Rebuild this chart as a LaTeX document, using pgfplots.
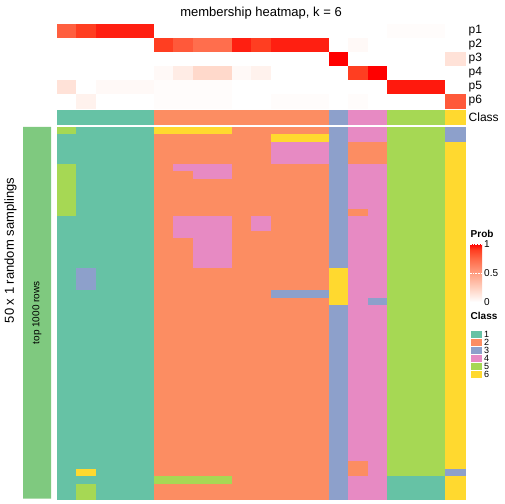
\documentclass[border=0pt]{standalone}
\usepackage{pgfplots}
\pgfplotsset{compat=1.18}
\usepackage{pgfplotstable}
\usepackage{fontspec}
\setmainfont{Liberation Sans}

\definecolor{cA}{RGB}{102,194,165}
\definecolor{cB}{RGB}{252,141,98}
\definecolor{cC}{RGB}{141,160,203}
\definecolor{cD}{RGB}{231,138,195}
\definecolor{cE}{RGB}{166,216,84}
\definecolor{cF}{RGB}{255,217,47}
\definecolor{accgreen}{RGB}{127,201,127}

\pgfplotstableread{
p c0 c1 c2 c3 c4 c5 c6 c7 c8 c9 c10 c11 c12 c13 c14 c15 c16 c17 c18 c19 c20
1 0.78 0.9 0.95 0.95 0.95 0 0 0 0 0 0 0 0 0 0 0 0 0.015 0.015 0.015 0
2 0 0 0 0 0 0.9 0.8 0.72 0.72 0.95 0.9 0.95 0.95 0.95 0 0.03 0 0 0 0 0
3 0 0 0 0 0 0 0 0 0 0 0 0 0 0 1 0 0 0 0 0 0.15
4 0 0 0 0 0 0.03 0.1 0.2 0.2 0.03 0.07 0 0 0 0 0.9 1 0 0 0 0
5 0.15 0 0.03 0.03 0.03 0.015 0.015 0.015 0.015 0 0 0 0 0 0 0 0 0.96 0.96 0.96 0
6 0 0.07 0 0 0 0.015 0.015 0.015 0.015 0 0 0.015 0.015 0.015 0 0.015 0 0 0 0 0.8
}\probtable

\pgfplotstableread{
x y c
0 1 1
1 1 1
2 1 1
3 1 1
4 1 1
5 1 2
6 1 2
7 1 2
8 1 2
9 1 2
10 1 2
11 1 2
12 1 2
13 1 2
14 1 3
15 1 4
16 1 4
17 1 5
18 1 5
19 1 5
20 1 6
}\classtable

\pgfplotstableread{
r c0 c1 c2 c3 c4 c5 c6 c7 c8 c9 c10 c11 c12 c13 c14 c15 c16 c17 c18 c19 c20
0 5 1 1 1 1 6 6 6 6 2 2 2 2 2 3 4 4 5 5 5 3
1 1 1 1 1 1 2 2 2 2 2 2 6 6 6 3 4 4 5 5 5 3
2 1 1 1 1 1 2 2 2 2 2 2 4 4 4 3 2 2 5 5 5 6
3 1 1 1 1 1 2 2 2 2 2 2 4 4 4 3 2 2 5 5 5 6
4 1 1 1 1 1 2 2 2 2 2 2 4 4 4 3 2 2 5 5 5 6
5 5 1 1 1 1 2 4 4 4 2 2 2 2 2 3 4 4 5 5 5 6
6 5 1 1 1 1 2 2 4 4 2 2 2 2 2 3 4 4 5 5 5 6
7 5 1 1 1 1 2 2 2 2 2 2 2 2 2 3 4 4 5 5 5 6
8 5 1 1 1 1 2 2 2 2 2 2 2 2 2 3 4 4 5 5 5 6
9 5 1 1 1 1 2 2 2 2 2 2 2 2 2 3 4 4 5 5 5 6
10 5 1 1 1 1 2 2 2 2 2 2 2 2 2 3 4 4 5 5 5 6
11 5 1 1 1 1 2 2 2 2 2 2 2 2 2 3 2 4 5 5 5 6
12 1 1 1 1 1 2 4 4 4 2 4 2 2 2 3 4 4 5 5 5 6
13 1 1 1 1 1 2 4 4 4 2 4 2 2 2 3 4 4 5 5 5 6
14 1 1 1 1 1 2 4 4 4 2 2 2 2 2 3 4 4 5 5 5 6
15 1 1 1 1 1 2 2 4 4 2 2 2 2 2 3 4 4 5 5 5 6
16 1 1 1 1 1 2 2 4 4 2 2 2 2 2 3 4 4 5 5 5 6
17 1 1 1 1 1 2 2 4 4 2 2 2 2 2 3 4 4 5 5 5 6
18 1 1 1 1 1 2 2 4 4 2 2 2 2 2 3 4 4 5 5 5 6
19 1 3 1 1 1 2 2 2 2 2 2 2 2 2 6 4 4 5 5 5 6
20 1 3 1 1 1 2 2 2 2 2 2 2 2 2 6 4 4 5 5 5 6
21 1 3 1 1 1 2 2 2 2 2 2 2 2 2 6 4 4 5 5 5 6
22 1 1 1 1 1 2 2 2 2 2 2 3 3 3 6 4 4 5 5 5 6
23 1 1 1 1 1 2 2 2 2 2 2 2 2 2 6 4 3 5 5 5 6
24 1 1 1 1 1 2 2 2 2 2 2 2 2 2 3 4 4 5 5 5 6
25 1 1 1 1 1 2 2 2 2 2 2 2 2 2 3 4 4 5 5 5 6
26 1 1 1 1 1 2 2 2 2 2 2 2 2 2 3 4 4 5 5 5 6
27 1 1 1 1 1 2 2 2 2 2 2 2 2 2 3 4 4 5 5 5 6
28 1 1 1 1 1 2 2 2 2 2 2 2 2 2 3 4 4 5 5 5 6
29 1 1 1 1 1 2 2 2 2 2 2 2 2 2 3 4 4 5 5 5 6
30 1 1 1 1 1 2 2 2 2 2 2 2 2 2 3 4 4 5 5 5 6
31 1 1 1 1 1 2 2 2 2 2 2 2 2 2 3 4 4 5 5 5 6
32 1 1 1 1 1 2 2 2 2 2 2 2 2 2 3 4 4 5 5 5 6
33 1 1 1 1 1 2 2 2 2 2 2 2 2 2 3 4 4 5 5 5 6
34 1 1 1 1 1 2 2 2 2 2 2 2 2 2 3 4 4 5 5 5 6
35 1 1 1 1 1 2 2 2 2 2 2 2 2 2 3 4 4 5 5 5 6
36 1 1 1 1 1 2 2 2 2 2 2 2 2 2 3 4 4 5 5 5 6
37 1 1 1 1 1 2 2 2 2 2 2 2 2 2 3 4 4 5 5 5 6
38 1 1 1 1 1 2 2 2 2 2 2 2 2 2 3 4 4 5 5 5 6
39 1 1 1 1 1 2 2 2 2 2 2 2 2 2 3 4 4 5 5 5 6
40 1 1 1 1 1 2 2 2 2 2 2 2 2 2 3 4 4 5 5 5 6
41 1 1 1 1 1 2 2 2 2 2 2 2 2 2 3 4 4 5 5 5 6
42 1 1 1 1 1 2 2 2 2 2 2 2 2 2 3 4 4 5 5 5 6
43 1 1 1 1 1 2 2 2 2 2 2 2 2 2 3 4 4 5 5 5 6
44 1 1 1 1 1 2 2 2 2 2 2 2 2 2 3 4 4 5 5 5 6
45 1 1 1 1 1 2 2 2 2 2 2 2 2 2 3 2 4 5 5 5 6
46 1 6 1 1 1 2 2 2 2 2 2 2 2 2 3 2 4 5 5 5 3
47 1 1 1 1 1 5 5 5 5 2 2 2 2 2 3 4 4 1 1 1 6
48 1 5 1 1 1 2 2 2 2 2 2 2 2 2 3 4 4 1 1 1 6
49 1 5 1 1 1 2 2 2 2 2 2 2 2 2 3 4 4 1 1 1 6
}\maintable

\pgfplotsset{
  heat/.style={
    anchor=south west, scale only axis, width=408bp,
    xmin=-0.5, xmax=20.5, y dir=reverse,
    axis line style={draw=none}, tick style={draw=none},
    xtick=\empty, yticklabel pos=right,
    yticklabel style={anchor=west, inner sep=0pt, xshift=3.5bp,
      font=\fontsize{12bp}{14bp}\selectfont},
  },
  classcells/.style={
    scatter, only marks, mark=square*, point meta=explicit symbolic,
    scatter/classes={
      1={fill=cA, draw=cA},
      2={fill=cB, draw=cB},
      3={fill=cC, draw=cC},
      4={fill=cD, draw=cD},
      5={fill=cE, draw=cE},
      6={fill=cF, draw=cF}},
  },
}

\begin{document}
\begin{tikzpicture}[x=1bp,y=1bp]
\useasboundingbox (0,0) rectangle (504,504);

\node[font=\fontsize{13bp}{15bp}\selectfont] at (261,490.5) {membership heatmap, k = 6};

% probability heatmap
\begin{axis}[heat, at={(57bp,396bp)}, height=84bp, ymin=0.5, ymax=6.5,
  ytick={1,2,3,4,5,6}, yticklabels={p1,p2,p3,p4,p5,p6},
  colormap={prob}{rgb255(0cm)=(255,255,255) rgb255(5cm)=(255,207,190)
    rgb255(10cm)=(255,158,129) rgb255(15cm)=(255,103,70) rgb255(18cm)=(255,62,33)
    rgb255(20cm)=(255,0,0)},
  point meta min=0, point meta max=1,
  colorbar shift/.style={},
  colorbar,
  colorbar style={at={(470bp,260bp)},
    anchor=north west, scale only axis, width=12bp, height=58bp,
    ytick={0,0.5,1}, yticklabels={0,0.5,1}, yticklabel pos=right,
    yticklabel style={anchor=west, inner sep=0pt, xshift=2bp,
      font=\fontsize{10bp}{12bp}\selectfont},
    axis line style={draw=none}, major tick length=6bp,
    tick style={draw=white, line width=0.6bp, dash pattern=on 1.5bp off 1bp}},
  ]
\pgfplotsinvokeforeach{0,...,20}{
  \addplot[scatter, only marks, mark=square*, mark size=7bp,
    scatter/use mapped color={draw=mapped color, fill=mapped color},
    mark options={xscale=1.38776, line width=0.3bp}, point meta=explicit]
    table[x expr=#1, y=p, meta=c#1]{\probtable};
}
\end{axis}

% class annotation
\begin{axis}[heat, at={(57bp,380bp)}, height=14bp, ymin=0.5, ymax=1.5,
  ytick={1}, yticklabels={Class}]
\addplot[classcells, mark size=7bp,
  mark options={xscale=1.38776, line width=0.3bp}]
  table[x=x, y=y, meta=c]{\classtable};
\end{axis}

% main membership heatmap
\begin{axis}[heat, at={(57bp,5.3bp)}, height=371.7bp, ymin=-0.5, ymax=49.5,
  ytick=\empty]
\pgfplotsinvokeforeach{0,...,20}{
  \addplot[classcells, mark size=3.717bp,
    mark options={xscale=2.6136, line width=0.3bp}]
    table[x expr=#1, y=r, meta=c#1]{\maintable};
}
\end{axis}

% left annotation bar
\begin{axis}[at={(23bp,5.3bp)}, anchor=south west, scale only axis, width=28bp,
  height=371.7bp, xmin=0, xmax=1, ymin=0, ymax=1, hide axis]
\addplot[fill=accgreen, draw=none] coordinates {(0,0) (1,0) (1,1) (0,1) (0,0)};
\node[rotate=90, font=\fontsize{10bp}{12bp}\selectfont] at (axis cs:0.5,0.5) {top 1000 rows};
\end{axis}

\node[rotate=90, font=\fontsize{13bp}{15bp}\selectfont] at (10.5,253.5) {50 x 1 random samplings};

% legends
\node[anchor=base west, inner sep=0pt, font=\bfseries\fontsize{10bp}{12bp}\selectfont] at (470.5,266) {Prob};
\node[anchor=base west, inner sep=0pt, font=\bfseries\fontsize{10bp}{12bp}\selectfont] at (470.5,184) {Class};
\fill[cA, draw=white, line width=0.5bp] (470,174) rectangle (482,166);
\fill[cB, draw=white, line width=0.5bp] (470,166) rectangle (482,158);
\fill[cC, draw=white, line width=0.5bp] (470,158) rectangle (482,150);
\fill[cD, draw=white, line width=0.5bp] (470,150) rectangle (482,142);
\fill[cE, draw=white, line width=0.5bp] (470,142) rectangle (482,134);
\fill[cF, draw=white, line width=0.5bp] (470,134) rectangle (482,126);
\begin{scope}[every node/.style={anchor=west, inner sep=0pt, font=\fontsize{9bp}{10bp}\selectfont}]
\node at (484,170) {1};
\node at (484,162) {2};
\node at (484,154) {3};
\node at (484,146) {4};
\node at (484,138) {5};
\node at (484,130) {6};
\end{scope}
\end{tikzpicture}
\end{document}
